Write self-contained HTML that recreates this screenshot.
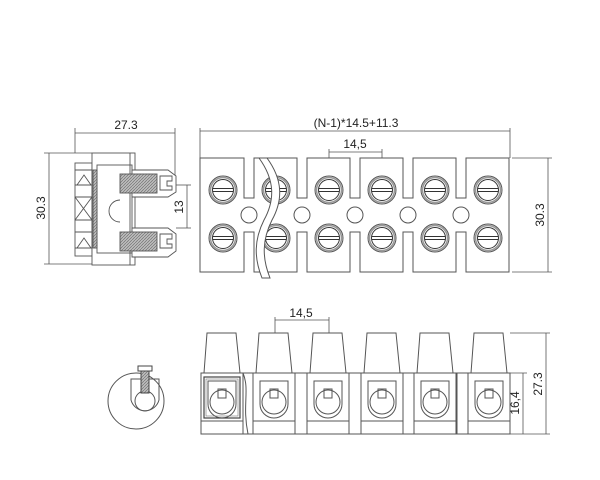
<!DOCTYPE html>
<html><head><meta charset="utf-8"><style>
html,body{margin:0;padding:0;background:#fff;width:600px;height:480px;overflow:hidden}
svg{display:block}
text{font-family:"Liberation Sans",sans-serif;font-size:12px;fill:#222}
</style></head><body>
<svg width="600" height="480" viewBox="0 0 600 480" xmlns="http://www.w3.org/2000/svg">
<defs>
<pattern id="h" width="3" height="3" patternUnits="userSpaceOnUse"><rect width="3" height="3" fill="#bbb"/><path d="M0 3L3 0" stroke="#666" stroke-width="0.6"/></pattern>
<g id="scr"><circle r="14" fill="none" stroke="#555" stroke-width="1"/><circle r="12.5" fill="none" stroke="#999" stroke-width="1.5"/><circle r="10.5" fill="#fff" stroke="#333" stroke-width="1"/><line x1="-10.5" y1="-1.5" x2="10.5" y2="-1.5" stroke="#333"/><line x1="-10.5" y1="1.5" x2="10.5" y2="1.5" stroke="#333"/></g>
<g id="blk" fill="#fff" stroke="#555" stroke-width="1">
<path d="M6 333 L35 333 L39 373 L3 373 Z"/>
<rect x="0" y="373" width="42" height="61"/>
<line x1="0" y1="421" x2="42" y2="421"/>
<path d="M7 381 L35 381 L35 404 A14 14 0 0 1 7 404 Z" fill="none"/>
<circle cx="21" cy="402" r="12" fill="none"/>
<rect x="17" y="389" width="8" height="9" fill="none"/>
</g>
</defs>
<g stroke="#555" fill="none" stroke-width="0.8">
<line x1="75" y1="133" x2="175" y2="133"/><line x1="75" y1="128" x2="75" y2="153"/><line x1="175" y1="128" x2="175" y2="175"/>
<line x1="49" y1="153" x2="49" y2="264"/><line x1="44" y1="153" x2="92" y2="153"/><line x1="44" y1="264" x2="92" y2="264"/>
<line x1="187" y1="185" x2="187" y2="228"/><line x1="176" y1="185" x2="191" y2="185"/><line x1="176" y1="228" x2="191" y2="228"/>
</g>
<text x="126" y="129" text-anchor="middle">27.3</text>
<text transform="translate(45,208) rotate(-90)" text-anchor="middle">30.3</text>
<text transform="translate(183,207) rotate(-90)" text-anchor="middle">13</text>
<g stroke="#555" fill="#fff" stroke-width="0.9">
<rect x="75" y="163" width="17" height="93"/>
<path d="M75 170 L92 170 M75 185 L92 185 M75 197 L92 197 M75 220 L92 220 M75 232 L92 232 M75 248 L92 248" />
<path d="M75 197 L92 220 M92 197 L75 220 M77 185 L84 175 L91 185 M77 248 L84 238 L91 248" fill="none"/>
<rect x="92" y="153" width="43" height="112"/>
<rect x="97" y="165" width="35" height="88" fill="none"/>
<rect x="93" y="170" width="4" height="78" fill="url(#h)"/>
<line x1="130" y1="153" x2="130" y2="265"/>
<path d="M132 170 L168 170 L176 176 L176 192 L168 197 L132 197 Z"/>
<path d="M132 228 L168 228 L176 234 L176 251 L168 257 L132 257 Z"/>
<rect x="120" y="174" width="37" height="19" fill="url(#h)"/>
<rect x="120" y="232" width="37" height="19" fill="url(#h)"/>
<path d="M160 176 L172 176 L172 181 L167 181 L167 186 L172 186 L172 190 L160 190 Z"/>
<path d="M160 234 L172 234 L172 239 L167 239 L167 244 L172 244 L172 248 L160 248 Z"/>
<path d="M120 200 A6 6 0 0 0 120 222" fill="none"/>
</g>
<g stroke="#555" fill="none" stroke-width="0.8">
<line x1="200" y1="131" x2="510" y2="131"/><line x1="200" y1="128" x2="200" y2="158"/><line x1="510" y1="128" x2="510" y2="158"/>
<line x1="329" y1="152" x2="382" y2="152"/><line x1="329" y1="149" x2="329" y2="176"/><line x1="382" y1="149" x2="382" y2="176"/>
<line x1="548" y1="158" x2="548" y2="272"/><line x1="512" y1="158" x2="552" y2="158"/><line x1="512" y1="272" x2="552" y2="272"/>
</g>
<text x="356" y="127" text-anchor="middle">(N-1)*14.5+11.3</text>
<text x="355" y="148" text-anchor="middle">14,5</text>
<text transform="translate(544,215) rotate(-90)" text-anchor="middle">30.3</text>
<path d="M200 158 L244 158 L244 198 L254 198 L254 158 L297 158 L297 198 L307 198 L307 158 L350 158 L350 198 L360 198 L360 158 L403 158 L403 198 L413 198 L413 158 L456 158 L456 198 L466 198 L466 158 L509 158 L509 272 L466 272 L466 232 L456 232 L456 272 L413 272 L413 232 L403 232 L403 272 L360 272 L360 232 L350 232 L350 272 L307 272 L307 232 L297 232 L297 272 L254 272 L254 232 L244 232 L244 272 L200 272 Z" fill="#fff" stroke="#555"/>
<g fill="#fff" stroke="#555"><circle cx="249" cy="215" r="8"/><circle cx="302" cy="215" r="8"/><circle cx="355" cy="215" r="8"/><circle cx="408" cy="215" r="8"/><circle cx="461" cy="215" r="8"/></g>
<use href="#scr" x="223" y="190"/><use href="#scr" x="276" y="190"/><use href="#scr" x="329" y="190"/><use href="#scr" x="382" y="190"/><use href="#scr" x="435" y="190"/><use href="#scr" x="488" y="190"/>
<use href="#scr" x="223" y="238"/><use href="#scr" x="276" y="238"/><use href="#scr" x="329" y="238"/><use href="#scr" x="382" y="238"/><use href="#scr" x="435" y="238"/><use href="#scr" x="488" y="238"/>
<path d="M259 158 C275 180 275 200 264 220 C254 240 254 258 262 278 L270 278 C262 258 262 240 272 220 C283 200 283 180 267 158 Z" fill="#fff" stroke="#555"/>
<!-- bottom view -->
<circle cx="136" cy="401" r="28" fill="#fff" stroke="#555"/>
<path d="M131 379 L159 379 L159 400 A14.5 14.5 0 0 1 131 400 Z" fill="none" stroke="#555"/>
<circle cx="145" cy="401" r="10" fill="none" stroke="#555"/>
<rect x="141" y="371" width="8" height="22" fill="url(#h)" stroke="#444"/>
<rect x="138" y="366" width="14" height="5" fill="#fff" stroke="#444"/>
<g stroke="#555" fill="#fff">
<rect x="243" y="373" width="10" height="61"/><rect x="295" y="373" width="12" height="61"/><rect x="349" y="373" width="12" height="61"/><rect x="403" y="373" width="11" height="61"/><rect x="457" y="373" width="11" height="61"/>
</g>
<use href="#blk" x="201"/><use href="#blk" x="253"/><use href="#blk" x="307"/><use href="#blk" x="361"/><use href="#blk" x="414"/><use href="#blk" x="468"/>
<rect x="204" y="377" width="36" height="41" fill="none" stroke="#444" stroke-width="1.2"/>
<rect x="206" y="379" width="32" height="37" fill="none" stroke="#777" stroke-width="0.6"/>
<path d="M243 373 C250 390 242 405 248 434" fill="none" stroke="#555"/>
<g stroke="#555" fill="none" stroke-width="0.8">
<line x1="275" y1="320" x2="329" y2="320"/><line x1="275" y1="317" x2="275" y2="333"/><line x1="329" y1="317" x2="329" y2="333"/>
<line x1="510" y1="333" x2="550" y2="333"/><line x1="510" y1="373" x2="527" y2="373"/><line x1="510" y1="434" x2="550" y2="434"/>
<line x1="523" y1="373" x2="523" y2="434"/><line x1="546" y1="333" x2="546" y2="434"/>
</g>
<text x="301" y="317" text-anchor="middle">14,5</text>
<text transform="translate(519,403) rotate(-90)" text-anchor="middle">16,4</text>
<text transform="translate(542,384) rotate(-90)" text-anchor="middle">27.3</text>
</svg>
</body></html>
